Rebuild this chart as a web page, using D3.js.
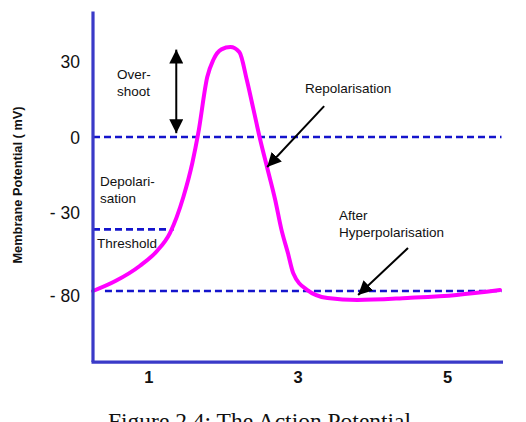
<!DOCTYPE html>
<html>
<head>
<meta charset="utf-8">
<script src="https://cdn.jsdelivr.net/npm/d3@7"></script>
<style>
  html, body { margin: 0; padding: 0; background: #fff; }
  svg { display: block; }
</style>
</head>
<body>
<script>
// ---- data ----
const timeMs = [0.26, 0.56, 0.89, 1.12, 1.29, 1.47, 1.59, 1.67, 1.79, 1.87, 1.98, 2.10, 2.22, 2.32, 2.41, 2.50, 2.59, 2.70, 2.78, 2.87, 2.94, 3.13, 3.40, 3.80, 4.47, 5.13, 5.71];
const potential = [-80, -73.7, -64, -54.5, -43.3, -24, -10.4, 1.6, 23.7, 30.4, 34.6, 35.5, 33.5, 22.5, 10.7, -1.2, -12, -25.2, -40.5, -56, -68.6, -79.4, -84.4, -85.7, -84.4, -82.5, -79.4];

const yTickValues = [30, 0, -30, -80];
const yTickLabels = ["30", "0", "- 30", "- 80"];
const xTickValues = [1, 3, 5];
const xTickLabels = ["1", "3", "5"];

const restingPotential = -80;
const zeroLevel = 0;
const thresholdLevel = -41;

const yTitle = "Membrane Potential ( mV)";
const caption = "Figure 2.4: The Action Potential";

// ---- layout ----
const W = 526, H = 422;
const x = d3.scaleLinear().domain([0.26, 5.75]).range([93, 503]);
// schematic (piecewise) potential axis as in the original drawing
const y = d3.scaleLinear().domain([-80, -30, 0, 30]).range([291, 212, 137, 61]);
const yBottom = -125, yTop = 49.5;

const svg = d3.select("body").append("svg").attr("width", W).attr("height", H);
svg.append("rect").attr("width", W).attr("height", H).attr("fill", "#fff");

const defs = svg.append("defs");
defs.append("marker").attr("id", "ah")
  .attr("viewBox", "0 0 14 14").attr("refX", 14).attr("refY", 7)
  .attr("markerWidth", 14).attr("markerHeight", 14)
  .attr("markerUnits", "userSpaceOnUse").attr("orient", "auto-start-reverse")
  .append("path").attr("d", "M0,0 L14,7 L0,14 Z").attr("fill", "#000");

const axisColor = "#3a3ac8";
const dashColor = "#1414cc";

// dashed reference lines
const refs = [
  { v: zeroLevel, x0: x.domain()[0], x1: 5.73 },
  { v: thresholdLevel, x0: x.domain()[0], x1: 1.34 },
  { v: restingPotential, x0: 0.42, x1: 5.73 }
];
svg.selectAll("line.ref").data(refs).enter().append("line")
  .attr("class", "ref")
  .attr("x1", d => x(d.x0)).attr("x2", d => x(d.x1))
  .attr("y1", d => y(d.v)).attr("y2", d => y(d.v))
  .attr("stroke", dashColor).attr("stroke-width", 2.6)
  .attr("stroke-dasharray", "7,4");

// action potential curve
const pts = timeMs.map((t, i) => [t, potential[i]]);
svg.append("path").datum(pts)
  .attr("d", d3.line().x(d => x(d[0])).y(d => y(d[1])).curve(d3.curveMonotoneX))
  .attr("fill", "none").attr("stroke", "#ff00ff").attr("stroke-width", 4)
  .attr("stroke-linejoin", "round").attr("stroke-linecap", "round");

// axes (custom: plain lines + labels)
const x0 = x.range()[0];
svg.append("line").attr("x1", x0).attr("x2", x0).attr("y1", y(yTop)).attr("y2", y(yBottom))
  .attr("stroke", axisColor).attr("stroke-width", 3.2);
svg.append("line").attr("x1", x0 - 1.5).attr("x2", x.range()[1]).attr("y1", y(yBottom)).attr("y2", y(yBottom))
  .attr("stroke", axisColor).attr("stroke-width", 3.2);

const yAxis = d3.axisLeft(y).tickValues(yTickValues).tickFormat((d, i) => yTickLabels[i]).tickSize(0).tickPadding(13);
const gy = svg.append("g").attr("transform", `translate(${x0},0)`).call(yAxis);
gy.select(".domain").remove();
gy.selectAll("text").attr("font-family", "Liberation Sans, Arial, sans-serif")
  .attr("font-size", 17.5).attr("fill", "#111").attr("dy", (d) => d === -80 ? "0.6em" : "0.35em");

const xAxis = d3.axisBottom(x).tickValues(xTickValues).tickFormat((d, i) => xTickLabels[i]).tickSize(0).tickPadding(9);
const gx = svg.append("g").attr("transform", `translate(0,${y(yBottom)})`).call(xAxis);
gx.select(".domain").remove();
gx.selectAll("text").attr("font-family", "Liberation Sans, Arial, sans-serif")
  .attr("font-size", 16.5).attr("font-weight", "bold").attr("fill", "#111");

// y title
svg.append("text").attr("transform", "translate(22,185) rotate(-90)")
  .attr("text-anchor", "middle").attr("font-family", "Liberation Sans, Arial, sans-serif")
  .attr("font-size", 12.8).attr("font-weight", "bold").attr("fill", "#111").text(yTitle);

// arrows
const arrows = [
  { from: [1.375, 1.5], to: [1.375, 34.5], both: true },
  { from: [3.355, 12.2], to: [2.592, -12] },
  { from: [4.478, -52.8], to: [3.81, -82.5] }
];
svg.selectAll("line.arrow").data(arrows).enter().append("line")
  .attr("x1", d => x(d.from[0])).attr("y1", d => y(d.from[1]))
  .attr("x2", d => x(d.to[0])).attr("y2", d => y(d.to[1]))
  .attr("stroke", "#000").attr("stroke-width", 2)
  .attr("marker-end", "url(#ah)")
  .attr("marker-start", d => d.both ? "url(#ah)" : null);

// annotation labels
const labels = [
  { lines: ["Over-", "shoot"], px: 117, py: 79 },
  { lines: ["Depolari-", "sation"], px: 100, py: 186 },
  { lines: ["Threshold"], px: 97, py: 248 },
  { lines: ["Repolarisation"], px: 305, py: 93 },
  { lines: ["After", "Hyperpolarisation"], px: 339, py: 220 }
];
labels.forEach(l => {
  const t = svg.append("text").attr("font-family", "Liberation Sans, Arial, sans-serif")
    .attr("font-size", 13.5).attr("fill", "#111");
  l.lines.forEach((s, i) => t.append("tspan").attr("x", l.px).attr("y", l.py + i * 17).text(s));
});

// caption (cut by the bottom edge, as in the reference)
svg.append("text").attr("x", 108).attr("y", 429)
  .attr("font-family", "Liberation Serif, Times New Roman, serif")
  .attr("font-size", 23.5).attr("fill", "#111").text(caption);
</script>
</body>
</html>
